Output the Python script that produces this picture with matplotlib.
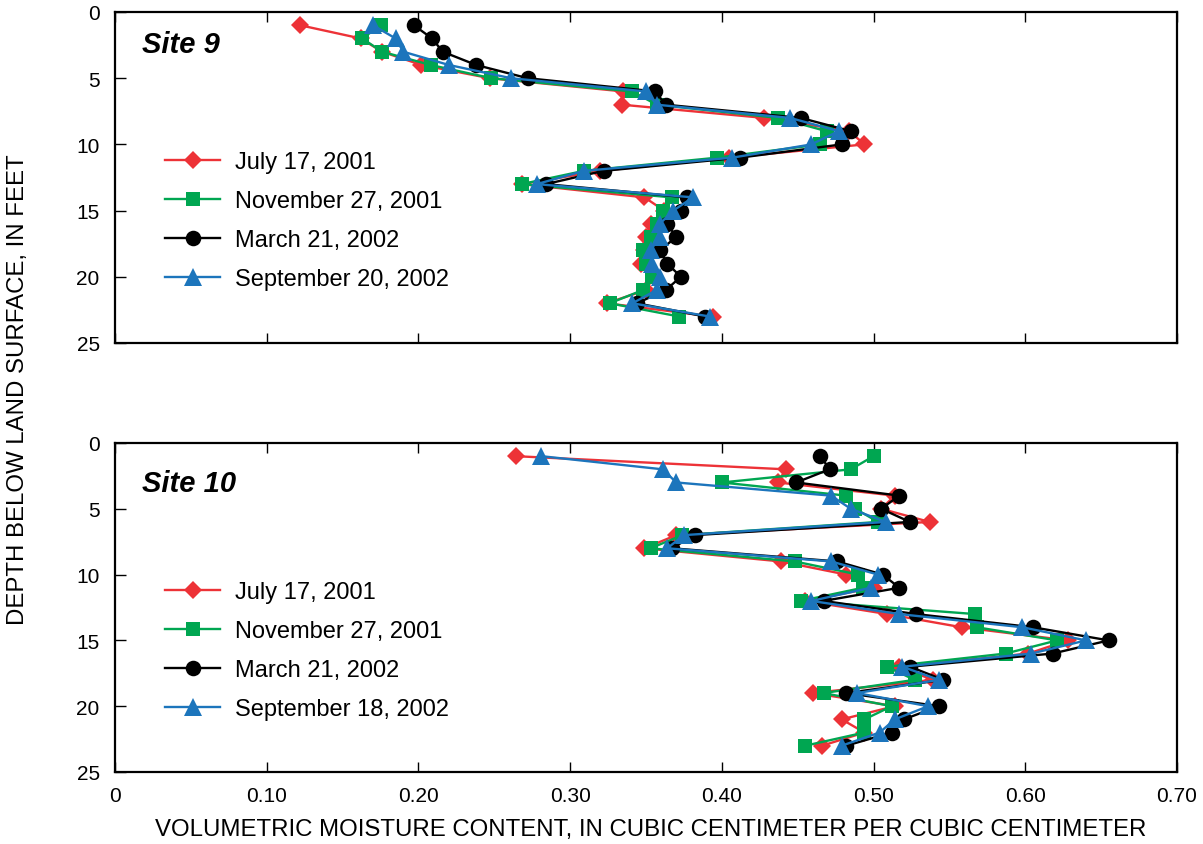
import matplotlib
matplotlib.use("Agg")
import matplotlib.pyplot as plt

plt.rcParams['font.family'] = ['Liberation Sans', 'DejaVu Sans']

depth = list(range(1, 24))

# Site 9
s9_jul01 = [0.122, 0.162, 0.176, 0.202, 0.247, 0.335, 0.334, 0.428, 0.484, 0.494, 0.405, 0.320,
            0.268, 0.349, 0.362, 0.353, 0.350, 0.349, 0.347, 0.355, 0.350, 0.324, 0.394]
s9_nov01 = [0.175, 0.163, 0.176, 0.208, 0.248, 0.341, 0.357, 0.437, 0.469, 0.465, 0.397, 0.309,
            0.268, 0.367, 0.361, 0.357, 0.353, 0.348, 0.350, 0.354, 0.348, 0.326, 0.372]
s9_mar02 = [0.197, 0.209, 0.216, 0.238, 0.272, 0.356, 0.363, 0.452, 0.485, 0.479, 0.412, 0.322,
            0.284, 0.377, 0.373, 0.364, 0.370, 0.359, 0.364, 0.373, 0.363, 0.344, 0.389]
s9_sep02 = [0.170, 0.185, 0.190, 0.220, 0.261, 0.350, 0.357, 0.445, 0.477, 0.459, 0.407, 0.309,
            0.278, 0.381, 0.368, 0.359, 0.359, 0.353, 0.354, 0.359, 0.357, 0.341, 0.392]

# Site 10
s10_jul01 = [0.264, 0.442, 0.437, 0.514, 0.505, 0.537, 0.370, 0.349, 0.439, 0.482, 0.500, 0.455,
             0.509, 0.558, 0.628, 0.602, 0.517, 0.539, 0.460, 0.514, 0.479, 0.494, 0.466]
s10_nov01 = [0.500, 0.485, 0.400, 0.482, 0.488, 0.503, 0.374, 0.353, 0.448, 0.490, 0.493, 0.452,
             0.567, 0.568, 0.621, 0.587, 0.509, 0.527, 0.467, 0.512, 0.494, 0.494, 0.455]
s10_mar02 = [0.465, 0.471, 0.449, 0.517, 0.505, 0.524, 0.382, 0.367, 0.476, 0.506, 0.517, 0.467,
             0.528, 0.605, 0.655, 0.618, 0.524, 0.546, 0.482, 0.543, 0.520, 0.512, 0.482]
s10_sep02 = [0.281, 0.361, 0.370, 0.472, 0.485, 0.508, 0.375, 0.364, 0.472, 0.503, 0.498, 0.459,
             0.517, 0.598, 0.640, 0.604, 0.519, 0.543, 0.489, 0.536, 0.514, 0.504, 0.479]

labels9 = ["July 17, 2001", "November 27, 2001", "March 21, 2002", "September 20, 2002"]
labels10 = ["July 17, 2001", "November 27, 2001", "March 21, 2002", "September 18, 2002"]
xticks = [0, 0.10, 0.20, 0.30, 0.40, 0.50, 0.60, 0.70]
xticklabels = ["0", "0.10", "0.20", "0.30", "0.40", "0.50", "0.60", "0.70"]
yticks = [0, 5, 10, 15, 20, 25]

colors = ["#ED3237", "#00A651", "#000000", "#1C75BC"]
markers = ["D", "s", "o", "^"]
msizes = [9.3, 10.6, 11.2, 13.0]

fig = plt.figure(figsize=(12.03, 8.45), dpi=100)
ax1 = fig.add_axes([115/1203, 1-344/845, 1062/1203, 331/845])
ax2 = fig.add_axes([115/1203, 1-773/845, 1062/1203, 329/845])


def draw(ax, series, labels, title, title_y, show_xlabels):
    for vals, lab, c, m, ms in zip(series, labels, colors, markers, msizes):
        ax.plot(vals, depth, color=c, marker=m, markersize=ms, linewidth=1.7,
                markeredgewidth=0, label=lab, clip_on=False)
    ax.set_xlim(0, 0.70)
    ax.set_ylim(25, 0)
    ax.set_xticks(xticks)
    ax.set_yticks(yticks)
    ax.set_yticklabels([str(v) for v in yticks])
    if show_xlabels:
        ax.set_xticklabels(xticklabels)
    else:
        ax.set_xticklabels([])
    ax.tick_params(axis='x', direction='in', top=True, bottom=True, length=7, width=1.0,
                   labelsize=15, pad=10)
    ax.tick_params(axis='y', direction='in', left=True, right=False, length=8, width=1.0,
                   labelsize=15, pad=11)
    for sp in ax.spines.values():
        sp.set_linewidth(1.6)
    ax.text(0.025, title_y, title, transform=ax.transAxes, fontsize=21,
            fontweight='bold', fontstyle='italic', va='center', ha='left')
    leg = ax.legend(loc='upper left', bbox_to_anchor=(0.047, 0.58), frameon=False,
                    fontsize=17, handlelength=2.35, handletextpad=0.6, labelspacing=0.72,
                    borderaxespad=0, borderpad=0)
    return leg


draw(ax1, [s9_jul01, s9_nov01, s9_mar02, s9_sep02], labels9, "Site 9", 0.903, False)
draw(ax2, [s10_jul01, s10_nov01, s10_mar02, s10_sep02], labels10, "Site 10", 0.878, True)

fig.text(18/1203, 1-390/845, "DEPTH BELOW LAND SURFACE, IN FEET", rotation=90,
         ha='center', va='center', fontsize=17.3)
fig.text(651/1203, 1-830/845,
         "VOLUMETRIC MOISTURE CONTENT, IN CUBIC CENTIMETER PER CUBIC CENTIMETER",
         ha='center', va='center', fontsize=17.3)

fig.savefig("out.png", dpi=100)
